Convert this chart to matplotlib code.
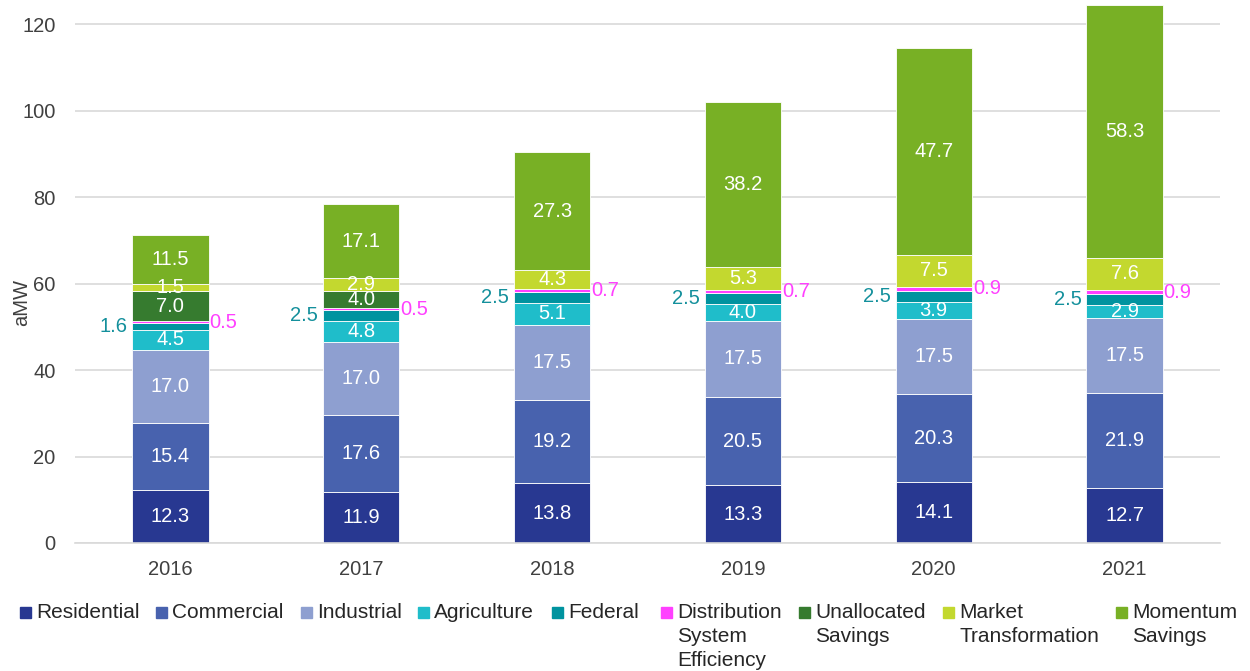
import numpy as np
import matplotlib.pyplot as plt
from matplotlib.patches import Rectangle

plt.rcParams['font.family'] = ['Liberation Sans', 'DejaVu Sans']

years = ["2016", "2017", "2018", "2019", "2020", "2021"]
residential = [12.3, 11.9, 13.8, 13.3, 14.1, 12.7]
commercial = [15.4, 17.6, 19.2, 20.5, 20.3, 21.9]
industrial = [17.0, 17.0, 17.5, 17.5, 17.5, 17.5]
agriculture = [4.5, 4.8, 5.1, 4.0, 3.9, 2.9]
federal = [1.6, 2.5, 2.5, 2.5, 2.5, 2.5]
dse = [0.5, 0.5, 0.7, 0.7, 0.9, 0.9]
unallocated = [7.0, 4.0, 0, 0, 0, 0]
market = [1.5, 2.9, 4.3, 5.3, 7.5, 7.6]
momentum = [11.5, 17.1, 27.3, 38.2, 47.7, 58.3]

series = [
    ("Residential", residential, "#283891"),
    ("Commercial", commercial, "#4862AE"),
    ("Industrial", industrial, "#8E9FD0"),
    ("Agriculture", agriculture, "#1FBDCA"),
    ("Federal", federal, "#00939F"),
    ("Distribution\nSystem\nEfficiency", dse, "#FF40FF"),
    ("Unallocated\nSavings", unallocated, "#367B2F"),
    ("Market\nTransformation", market, "#C3D82F"),
    ("Momentum\nSavings", momentum, "#78B025"),
]

W, H = 1250, 671
fig = plt.figure(figsize=(W / 100, H / 100), dpi=100)
ax = fig.add_axes([75 / W, 1 - 543 / H, (1220 - 75) / W, (543 - 2.4) / H])

x = np.arange(len(years))
bw = 0.4
bottom = np.zeros(len(years))
for name, vals, col in series:
    vals = np.array(vals, dtype=float)
    ax.bar(x, vals, bw, bottom=bottom, color=col, edgecolor="white",
           linewidth=0.6, zorder=2)
    mid = bottom + vals / 2
    for i, v in enumerate(vals):
        if v == 0:
            continue
        if name == "Federal":
            ax.text(x[i] - bw / 2 - 0.025, mid[i], f"{v:.1f}", ha="right",
                    va="center", fontsize=14.5, color="#14909C")
        elif name.startswith("Distribution"):
            ax.text(x[i] + bw / 2 + 0.005, mid[i], f"{v:.1f}", ha="left",
                    va="center", fontsize=14.5, color="#FF40FF")
        else:
            ax.text(x[i], mid[i], f"{v:.1f}", ha="center", va="center",
                    fontsize=14.5, color="white", zorder=3)
    bottom += vals

ax.set_xlim(-0.5, len(years) - 0.5)
ax.set_ylim(0, 125)
ax.set_yticks(np.arange(0, 121, 20))
ax.set_xticks(x)
ax.set_xticklabels(years)
ax.yaxis.grid(True, color="#D9D9D9", linewidth=1.2, zorder=0)
ax.set_axisbelow(True)
for s in ["top", "right", "left"]:
    ax.spines[s].set_visible(False)
ax.spines["bottom"].set_color("#D9D9D9")
ax.spines["bottom"].set_linewidth(1.2)
ax.tick_params(axis="both", length=0, labelsize=14.5, colors="#404040")
ax.tick_params(axis="y", pad=14)
ax.tick_params(axis="x", pad=12)
fig.text(22 / W, 1 - 303 / H, "aMW", rotation=90, ha="center", va="center",
         fontsize=14.5, color="#404040")

# legend with handles on the first line of each label
text_x = [36, 172, 317, 434, 568, 677, 815, 959, 1132]
for (name, vals, col), tx in zip(series, text_x):
    fig.add_artist(Rectangle(((tx - 16) / W, 1 - 618 / H), 11 / W, 11 / H,
                             transform=fig.transFigure, color=col))
    fig.text(tx / W, 1 - 603 / H, name, ha="left", va="top", fontsize=15,
             color="#262626", linespacing=1.33)

fig.savefig("out.png", dpi=100)
